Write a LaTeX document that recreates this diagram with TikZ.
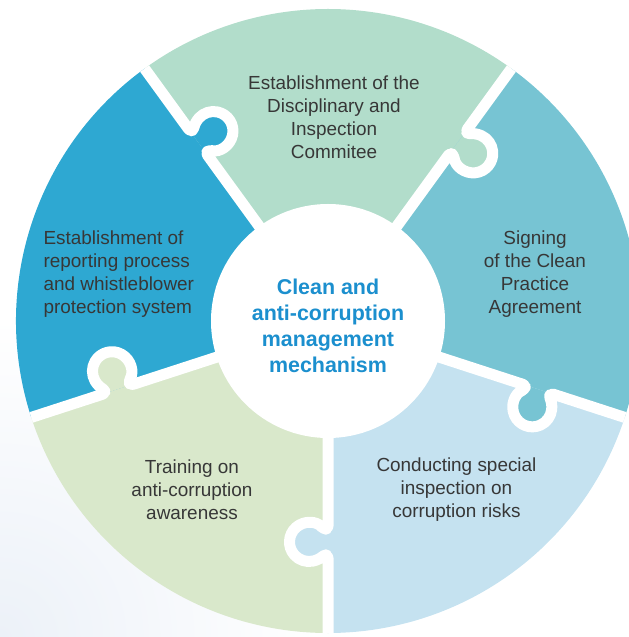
\documentclass[tikz,border=0pt]{standalone}
\usepackage{fontspec}
\setmainfont{Liberation Sans}
\definecolor{segtop}{RGB}{178,221,203}
\definecolor{segleft}{RGB}{46,168,210}
\definecolor{segright}{RGB}{119,196,211}
\definecolor{segbr}{RGB}{197,226,240}
\definecolor{segbl}{RGB}{217,232,203}
\definecolor{bodygray}{RGB}{55,55,55}
\definecolor{hubblue}{RGB}{27,143,206}
\definecolor{bgtint}{RGB}{236,241,248}
\begin{document}
\begin{tikzpicture}[x=1bp,y=1bp,
  segtext/.style={text=bodygray, font=\fontsize{19}{23}\selectfont, align=center, inner sep=0pt},
  hubtext/.style={text=hubblue, font=\fontsize{21.5}{26}\selectfont\bfseries, align=center, inner sep=0pt},
  gap/.style={draw=white, line width=11bp, line join=round, rounded corners=3bp},
]
% page frame
\useasboundingbox (-328,-316) rectangle (301,321);
\clip (-328,-316) rectangle (301,321);
% faint tint in the lower left corner
\shade[inner color=bgtint, outer color=white] (-328,-316) circle (320);

% five wedges of the ring
\fill[segtop]   (0,0) -- (54:312)  arc[start angle=54,  end angle=126, radius=312] -- cycle;
\fill[segleft]  (0,0) -- (126:312) arc[start angle=126, end angle=198, radius=312] -- cycle;
\fill[segbl]    (0,0) -- (198:312) arc[start angle=198, end angle=270, radius=312] -- cycle;
\fill[segbr]    (0,0) -- (270:312) arc[start angle=270, end angle=342, radius=312] -- cycle;
\fill[segright] (0,0) -- (-18:312) arc[start angle=-18, end angle=54,  radius=312] -- cycle;

% puzzle tabs: each wedge pushes a knob into its clockwise neighbour
\foreach \ang/\col in {126/segleft, 54/segtop, -18/segright, -90/segbr, -162/segbl}{
  \begin{scope}[rotate=\ang]
    \fill[\col] (208,0) -- (208,-4.47) arc[start angle=131.8, end angle=408.2, radius=19.5] -- (234,0) -- cycle;
  \end{scope}
}
% white joints between the pieces
\foreach \ang in {126, 54, -18, -90, -162}{
  \begin{scope}[rotate=\ang]
    \draw[gap] (0,0) -- (208,0) -- (208,-4.47) arc[start angle=131.8, end angle=408.2, radius=19.5] -- (234,0) -- (312,0);
  \end{scope}
}

% hub
\node[circle, fill=white, minimum size=234bp, inner sep=0pt] (hub) at (0,0) {};
\node[hubtext] (hubtitle) at (0,-5) {Clean and\\anti-corruption\\management\\mechanism};

% wedge labels
\node[segtext] (committee) at (6,204) {Establishment of the\\Disciplinary and\\Inspection\\Commitee};
\node[segtext, align=left, anchor=west] (reporting) at (-284.6,47) {Establishment of\\reporting process\\and whistleblower\\protection system};
\node[segtext] (signing) at (207,47) {Signing\\of the Clean\\Practice\\Agreement};
\node[segtext] (training) at (-136,-168.5) {Training on\\anti-corruption\\awareness};
\node[segtext] (inspection) at (128.5,-168.5) {Conducting special\\inspection on\\corruption risks};
\end{tikzpicture}
\end{document}
